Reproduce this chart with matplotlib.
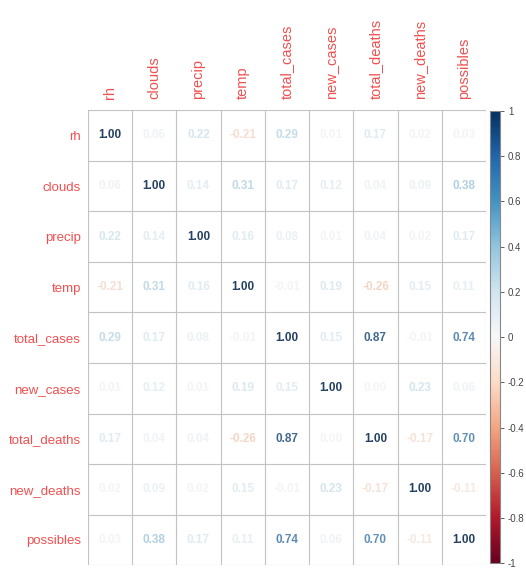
import numpy as np
import matplotlib
matplotlib.use("Agg")
import matplotlib.pyplot as plt
from matplotlib import colors as mcolors
from matplotlib.colorbar import ColorbarBase

plt.rcParams["font.family"] = ["Liberation Sans", "DejaVu Sans"]

# variables (same order on rows and columns)
variables = ["rh", "clouds", "precip", "temp", "total_cases",
             "new_cases", "total_deaths", "new_deaths", "possibles"]

# correlation matrix, one row per variable
corr = [
    [1.00, 0.06, 0.22, -0.21, 0.29, 0.01, 0.17, 0.02, 0.03],
    [0.06, 1.00, 0.14, 0.31, 0.17, 0.12, 0.04, 0.09, 0.38],
    [0.22, 0.14, 1.00, 0.16, 0.08, 0.01, 0.04, 0.02, 0.17],
    [-0.21, 0.31, 0.16, 1.00, -0.01, 0.19, -0.26, 0.15, 0.11],
    [0.29, 0.17, 0.08, -0.01, 1.00, 0.15, 0.87, -0.01, 0.74],
    [0.01, 0.12, 0.01, 0.19, 0.15, 1.00, 0.00, 0.23, 0.06],
    [0.17, 0.04, 0.04, -0.26, 0.87, 0.00, 1.00, -0.17, 0.70],
    [0.02, 0.09, 0.02, 0.15, -0.01, 0.23, -0.17, 1.00, -0.11],
    [0.03, 0.38, 0.17, 0.11, 0.74, 0.06, 0.70, -0.11, 1.00],
]
cbar_ticks = [1, 0.8, 0.6, 0.4, 0.2, 0, -0.2, -0.4, -0.6, -0.8, -1]

M = np.array(corr)
n = len(variables)
cmap = plt.get_cmap("RdBu")
norm = mcolors.Normalize(vmin=-1, vmax=1)


def num_color(v):
    # palette colour, a bit muted so the numbers read softer
    h, s, val = mcolors.rgb_to_hsv(cmap(norm(v))[:3])
    return mcolors.hsv_to_rgb((h, s * 0.65, min(val, 0.96)))


fig = plt.figure(figsize=(5.26, 5.68), dpi=100)
ax = fig.add_axes([0.167, 0.005, 0.757, 0.801])
ax.set_xlim(-0.5, n - 0.5)
ax.set_ylim(n - 0.5, -0.5)

for i in range(n):
    for j in range(n):
        v = M[i, j]
        ax.text(j, i, f"{v:.2f}", ha="center", va="center", fontsize=8.5,
                fontweight="bold", color=num_color(v))

# cell borders
for k in range(n + 1):
    ax.axhline(k - 0.5, color="#c2c2c2", lw=0.8)
    ax.axvline(k - 0.5, color="#c2c2c2", lw=0.8)
for s in ax.spines.values():
    s.set_visible(False)

ax.set_xticks(range(n))
ax.set_yticks(range(n))
ax.set_yticklabels(variables, color="#f05050", fontsize=9.5)
ax.set_xticklabels(variables, color="#f05050", fontsize=10.5, rotation=90)
ax.xaxis.tick_top()
ax.tick_params(axis="y", length=0, pad=5)
ax.tick_params(axis="x", length=0, pad=8)

# colour legend
cax = fig.add_axes([0.932, 0.008, 0.018, 0.797])
cb = ColorbarBase(cax, cmap=cmap, norm=norm, orientation="vertical")
cb.set_ticks(cbar_ticks)
cb.set_ticklabels([f"{t:g}" for t in cbar_ticks])
cb.outline.set_edgecolor("#888888")
cb.outline.set_linewidth(0.8)
cax.tick_params(labelsize=7, length=3, width=0.6, colors="#444444", pad=3)

fig.savefig("out.png", dpi=100)
